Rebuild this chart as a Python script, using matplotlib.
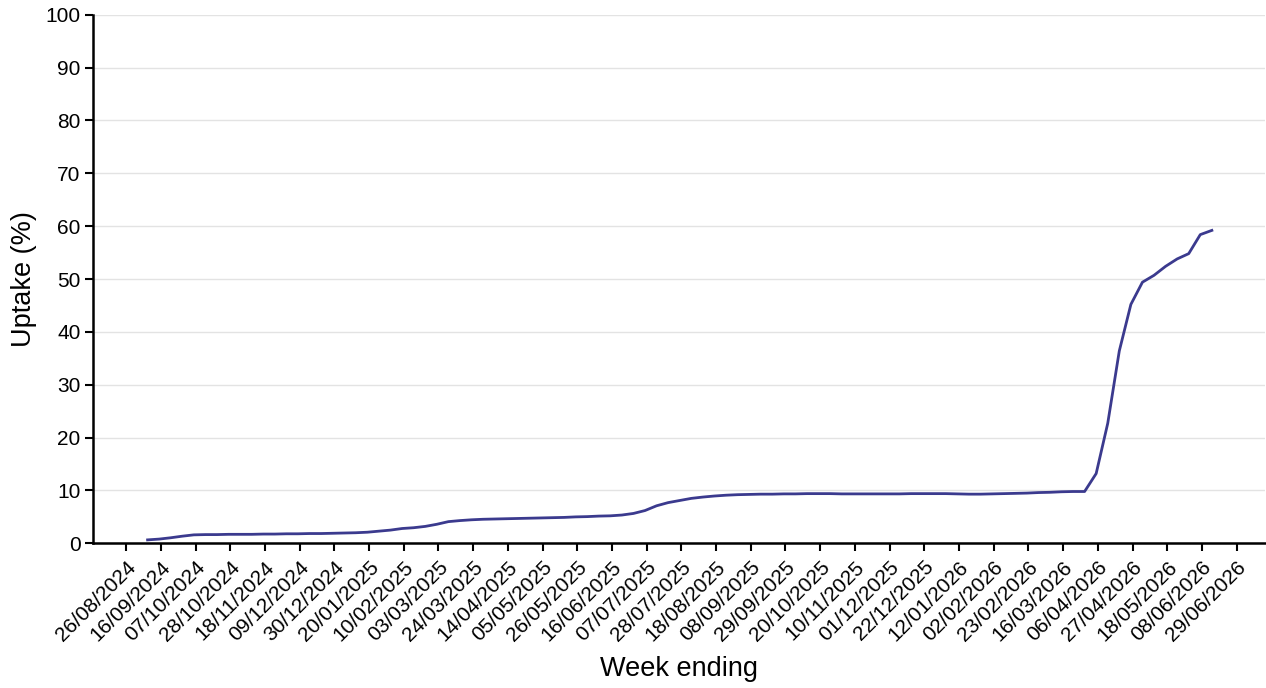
# weekly uptake line chart, week ending dates on x axis
import pandas as pd
import matplotlib
matplotlib.use('Agg')
import matplotlib.pyplot as plt
import matplotlib.dates as mdates

plt.rcParams['font.family'] = ['Liberation Sans', 'DejaVu Sans']

LINE_COLOR = '#3b3a8e'

# week ending dates (Sundays) from 08/09/2024 to 14/06/2026
week_ending = pd.date_range('2024-09-08', '2026-06-14', freq='7D')

# uptake (%) for each week
uptake = [0.65, 0.8, 1.05, 1.35, 1.6, 1.65, 1.65, 1.7, 1.7, 1.7,
          1.75, 1.75, 1.8, 1.8, 1.85, 1.85, 1.9, 1.95, 2.0, 2.1,
          2.3, 2.5, 2.8, 2.95, 3.2, 3.6, 4.1, 4.3, 4.45, 4.55,
          4.6, 4.65, 4.7, 4.75, 4.8, 4.85, 4.9, 5.0, 5.05, 5.15,
          5.2, 5.35, 5.65, 6.2, 7.1, 7.7, 8.1, 8.5, 8.75, 8.95,
          9.1, 9.2, 9.25, 9.3, 9.3, 9.35, 9.35, 9.4, 9.4, 9.4,
          9.35, 9.35, 9.35, 9.35, 9.35, 9.35, 9.4, 9.4, 9.4, 9.4,
          9.35, 9.3, 9.3, 9.35, 9.4, 9.45, 9.5, 9.6, 9.65, 9.75,
          9.8, 9.8, 13.2, 22.7, 36.4, 45.2, 49.4, 50.7, 52.4, 53.8,
          54.8, 58.4, 59.2]

# tick dates every 3 weeks
tick_dates = pd.date_range('2024-08-26', '2026-06-29', freq='21D')

fig = plt.figure(figsize=(12.66, 6.88), dpi=100)
ax = fig.add_axes([0.0735, 0.2103, 0.9255, 0.7683])

ax.plot(week_ending, uptake, color=LINE_COLOR, linewidth=2.0)

ax.set_ylim(0, 100)
ax.set_yticks(range(0, 101, 10))
ax.set_xlim(pd.Timestamp('2024-08-06'), pd.Timestamp('2026-07-16'))
ax.set_xticks(tick_dates)
ax.xaxis.set_major_formatter(mdates.DateFormatter('%d/%m/%Y'))
plt.setp(ax.get_xticklabels(), rotation=45, ha='right', rotation_mode='anchor')

ax.grid(axis='y', color='#e3e3e3', linewidth=1.0)
ax.set_axisbelow(True)

for side in ['top', 'right']:
    ax.spines[side].set_visible(False)
for side in ['left', 'bottom']:
    ax.spines[side].set_linewidth(1.8)
    ax.spines[side].set_color('black')

ax.tick_params(axis='both', length=6, width=1.5, labelsize=15, colors='black', pad=3)
ax.tick_params(axis='x', pad=4)

ax.set_ylabel('Uptake (%)', fontsize=19.5, labelpad=6)
ax.set_xlabel('Week ending', fontsize=19.5, labelpad=8)

fig.savefig('out.png', dpi=100)
